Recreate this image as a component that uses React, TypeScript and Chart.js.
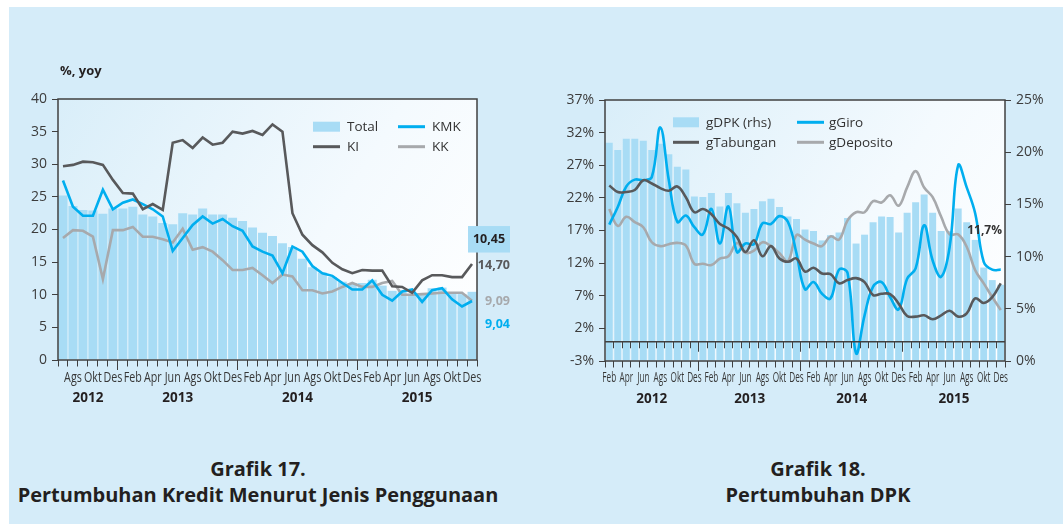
import React, { useEffect, useRef } from "react";
import { Chart, registerables } from "chart.js";

Chart.register(...registerables);

if (typeof document !== "undefined") {
  document.body.style.margin = "0";
}

// ---------------- Grafik 17 data ----------------
const K_MONTHS = [
  "Jul", "Ags", "Sep", "Okt", "Nov", "Des",
  "Jan", "Feb", "Mar", "Apr", "Mei", "Jun", "Jul", "Ags", "Sep", "Okt", "Nov", "Des",
  "Jan", "Feb", "Mar", "Apr", "Mei", "Jun", "Jul", "Ags", "Sep", "Okt", "Nov", "Des",
  "Jan", "Feb", "Mar", "Apr", "Mei", "Jun", "Jul", "Ags", "Sep", "Okt", "Nov", "Des",
];
const K_YEARS = ["2012", "2013", "2014", "2015"];
const K_YEAR_FIRST = [0, 6, 18, 30];
const K_TOTAL = [
  25.2, 23.6, 23.0, 22.9, 22.4, 23.2, 23.2, 23.5, 22.3, 22.0,
  21.0, 20.8, 22.5, 22.3, 23.2, 22.3, 22.3, 21.8, 21.3, 20.3,
  19.5, 19.0, 17.9, 17.3, 15.5, 14.2, 13.4, 12.7, 12.0, 11.8,
  11.8, 12.3, 11.4, 10.6, 10.6, 10.05, 10.0, 11.0, 11.1, 10.2,
  10.1, 10.45,
];
const K_KI = [
  29.7, 29.9, 30.4, 30.3, 29.9, 27.6, 25.6, 25.5, 23.1, 23.9,
  23.0, 33.3, 33.7, 32.5, 34.1, 33.0, 33.3, 35.0, 34.7, 35.1,
  34.5, 36.1, 35.0, 22.5, 19.2, 17.6, 16.5, 14.9, 13.9, 13.3,
  13.8, 13.7, 13.7, 11.3, 11.2, 10.3, 12.2, 13.0, 13.0, 12.7,
  12.7, 14.7,
];
const K_KMK = [
  27.5, 23.5, 22.1, 22.1, 26.1, 23.1, 24.1, 24.6, 23.9, 23.1,
  22.0, 16.7, 18.7, 20.7, 22.0, 20.9, 21.6, 20.5, 19.8, 17.4,
  16.6, 16.0, 13.3, 17.4, 16.6, 14.4, 13.3, 12.9, 11.8, 10.8,
  10.8, 12.2, 10.0, 9.1, 10.5, 10.8, 8.9, 10.7, 11.0, 9.3,
  8.2, 9.04,
];
const K_KK = [
  18.7, 19.9, 19.8, 18.9, 12.4, 19.9, 19.9, 20.4, 18.9, 18.9,
  18.5, 18.0, 20.1, 16.9, 17.3, 16.6, 15.3, 13.8, 13.8, 14.1,
  13.0, 11.8, 13.1, 12.8, 10.7, 10.7, 10.2, 10.5, 11.2, 11.8,
  11.2, 11.2, 11.8, 12.1, 10.0, 10.0, 10.1, 10.2, 10.3, 10.3,
  10.3, 9.09,
];
const K_NOTE_TEXT = ["10,45", "14,70", "9,09", "9,04"];
const K_NOTE_AT = [18.5, 14.6, 9.0, 5.6];

// ---------------- Grafik 18 data ----------------
const D_MONTHS = [
  "Feb", "Mar", "Apr", "Mei", "Jun", "Jul", "Ags", "Sep", "Okt", "Nov", "Des",
  "Jan", "Feb", "Mar", "Apr", "Mei", "Jun", "Jul", "Ags", "Sep", "Okt", "Nov", "Des",
  "Jan", "Feb", "Mar", "Apr", "Mei", "Jun", "Jul", "Ags", "Sep", "Okt", "Nov", "Des",
  "Jan", "Feb", "Mar", "Apr", "Mei", "Jun", "Jul", "Ags", "Sep", "Okt", "Nov", "Des",
];
const D_YEARS = ["2012", "2013", "2014", "2015"];
const D_YEAR_FIRST = [0, 11, 23, 35];
const D_DPK = [
  20.9, 20.2, 21.3, 21.3, 21.1, 20.2, 20.8, 19.8, 18.6, 18.35,
  15.75, 15.7, 16.1, 14.8, 16.1, 15.1, 14.2, 14.55, 15.3, 15.55,
  14.75, 13.85, 13.6, 12.6, 12.45, 11.55, 12.05, 12.3, 13.7, 11.25,
  12.1, 13.3, 13.85, 13.8, 12.3, 14.2, 15.2, 15.95, 14.2, 12.45,
  12.45, 14.6, 13.3, 11.6, 8.95, 7.75, 7.3,
];
const D_GIRO = [
  17.9, 20.6, 23.75, 24.8, 24.7, 25.2, 32.8, 24.7, 18.3, 19.3,
  17.5, 16.4, 20.3, 15.0, 20.7, 13.7, 15.0, 14.9, 18.1, 18.0,
  19.2, 18.3, 13.5, 8.0, 9.1, 7.3, 6.6, 11.0, 10.5, -1.8,
  4.0, 8.4, 9.1, 6.8, 4.9, 9.6, 11.2, 17.8, 12.4, 9.9,
  14.5, 27.0, 23.6, 19.6, 12.2, 11.0, 11.0,
];
const D_TABUNGAN = [
  23.9, 22.9, 22.9, 23.2, 24.7, 24.2, 23.5, 23.1, 23.75, 22.1,
  19.8, 20.3, 19.5, 18.0, 17.3, 16.0, 13.7, 15.5, 13.05, 14.6,
  12.7, 12.2, 12.7, 10.7, 11.3, 10.4, 10.3, 8.9, 9.4, 9.7,
  9.1, 7.1, 7.3, 7.25, 5.8, 3.9, 3.8, 4.0, 3.4, 4.0,
  4.7, 3.8, 4.3, 6.6, 5.9, 6.8, 8.9,
];
const D_DEPOSITO = [
  20.3, 17.7, 19.1, 18.3, 17.5, 15.2, 14.6, 14.9, 15.1, 14.7,
  11.9, 11.9, 11.7, 12.7, 13.05, 15.1, 13.6, 13.9, 15.2, 14.6,
  13.5, 12.3, 16.3, 15.6, 15.0, 14.6, 16.1, 15.6, 18.55, 19.8,
  19.8, 21.5, 21.3, 22.4, 20.8, 23.6, 26.1, 23.6, 22.1, 19.1,
  16.4, 16.4, 14.5, 10.9, 8.9, 6.8, 4.8,
];
const D_NOTE_TEXT = ["11,7%"];
const D_NOTE_AT = [17.1];

// ---------------- styles ----------------
const FONT = '"Open Sans", "Noto Sans", "DejaVu Sans", sans-serif';
const INK = "#231f20";
const AXIS = "#404040";
const PAGE_BG = "#d5ecf9";
const C_BAR = "#a8dcf5";
const C_DARK = "#58595b";
const C_BLUE = "#00aeef";
const C_GRAY = "#a7a9ac";

function alignPx(p: number, w: number) {
  return Math.round(p - w / 2) + w / 2;
}

function seg(ctx: CanvasRenderingContext2D, x0: number, y0: number, x1: number, y1: number) {
  ctx.beginPath();
  ctx.moveTo(x0, y0);
  ctx.lineTo(x1, y1);
  ctx.stroke();
}

type LegendPos = { label: string; kind: "box" | "line"; x0: number; x1: number; tx: number; y: number };
type NoteStyle = { color: string; align: CanvasTextAlign; x: number; box?: [number, number, number] };

function makeDecor(cfg: {
  showParity: number;
  refLabel: string;
  refWidth: number;
  monthSize: number;
  monthDy: number;
  years: string[];
  yearFirst: number[];
  yearDy: number;
  longTick: number;
  zeroScale?: string;
  legend: LegendPos[];
  noteText: string[];
  noteAt: number[];
  noteScale: string;
  noteStyles: NoteStyle[];
  noteSize: number;
}) {
  return {
    id: "decor",
    beforeDraw(chart: any) {
      const { ctx, chartArea: a } = chart;
      const g = ctx.createLinearGradient(a.left, a.top, a.right, a.bottom);
      g.addColorStop(0, "#d9eef9");
      g.addColorStop(0.6, "#f4fafe");
      g.addColorStop(1, "#ffffff");
      ctx.save();
      ctx.fillStyle = g;
      ctx.fillRect(a.left, a.top, a.right - a.left, a.bottom - a.top);
      ctx.restore();
    },
    afterDraw(chart: any) {
      const { ctx, chartArea: a } = chart;
      const xs = chart.scales.x;
      const labels: string[] = chart.data.labels;
      const n = labels.length;
      const px = (i: number) => xs.getPixelForValue(i);
      const step = px(1) - px(0);
      ctx.save();

      // zero line with hanging ticks
      if (cfg.zeroScale) {
        const y0 = alignPx(chart.scales[cfg.zeroScale].getPixelForValue(0), 1.5);
        ctx.strokeStyle = AXIS;
        ctx.lineWidth = 1.5;
        seg(ctx, a.left, y0, a.right, y0);
        ctx.lineWidth = 1;
        for (let i = 1; i < n; i++) {
          const x = alignPx(px(i) - step / 2, 1);
          const long = cfg.yearFirst.indexOf(i) >= 0;
          seg(ctx, x, y0, x, y0 + (long ? 10 : 6.5));
        }
      }

      // long year ticks at the bottom
      ctx.strokeStyle = AXIS;
      ctx.lineWidth = 1;
      for (const f of cfg.yearFirst) {
        if (f <= 0) continue;
        const x = alignPx(px(f) - step / 2, 1);
        seg(ctx, x, a.bottom, x, a.bottom + cfg.longTick);
      }

      // frame
      ctx.lineWidth = 1.5;
      ctx.strokeStyle = AXIS;
      ctx.strokeRect(a.left, a.top, a.right - a.left, a.bottom - a.top);

      // month labels (condensed)
      ctx.font = `${cfg.monthSize}px ${FONT}`;
      ctx.fillStyle = "#363636";
      ctx.textAlign = "center";
      ctx.textBaseline = "middle";
      const sx = cfg.refWidth / ctx.measureText(cfg.refLabel).width;
      for (let i = 0; i < n; i++) {
        if (i % 2 !== cfg.showParity) continue;
        ctx.save();
        ctx.translate(px(i), a.bottom + cfg.monthDy);
        ctx.scale(sx, 1);
        ctx.fillText(labels[i], 0, 0);
        ctx.restore();
      }

      // year labels
      ctx.font = `bold 13.5px ${FONT}`;
      ctx.fillStyle = INK;
      for (let j = 0; j < cfg.years.length; j++) {
        const s = cfg.yearFirst[j];
        const e = j + 1 < cfg.yearFirst.length ? cfg.yearFirst[j + 1] - 1 : n - 1;
        ctx.fillText(cfg.years[j], (px(s) + px(e)) / 2, a.bottom + cfg.yearDy);
      }

      // legend
      ctx.font = `13.5px ${FONT}`;
      ctx.textAlign = "left";
      for (const it of cfg.legend) {
        const ds = chart.data.datasets.find((d: any) => d.label === it.label);
        if (!ds) continue;
        if (it.kind === "box") {
          ctx.fillStyle = ds.backgroundColor;
          ctx.fillRect(it.x0, it.y - 5, it.x1 - it.x0, 10);
        } else {
          ctx.strokeStyle = ds.borderColor;
          ctx.lineWidth = 3;
          seg(ctx, it.x0, it.y, it.x1, it.y);
        }
        ctx.fillStyle = "#333333";
        ctx.fillText(it.label, it.tx, it.y + 0.5);
      }

      // value notes
      const ns = chart.scales[cfg.noteScale];
      ctx.font = `bold ${cfg.noteSize}px ${FONT}`;
      for (let k = 0; k < cfg.noteText.length; k++) {
        const st = cfg.noteStyles[k];
        const y = ns.getPixelForValue(cfg.noteAt[k]);
        if (st.box) {
          ctx.fillStyle = C_BAR;
          ctx.fillRect(st.box[0], y - st.box[2] / 2, st.box[1] - st.box[0], st.box[2]);
        }
        ctx.fillStyle = st.color;
        ctx.textAlign = st.align;
        ctx.fillText(cfg.noteText[k], st.x, y + 0.5);
      }
      ctx.restore();
    },
  };
}

function tickFont(size: number) {
  return { family: FONT, size };
}

function config17(): any {
  return {
    type: "bar",
    data: {
      labels: K_MONTHS,
      datasets: [
        { type: "line", label: "KI", data: K_KI, borderColor: C_DARK, backgroundColor: C_DARK, borderWidth: 2.6, pointRadius: 0, tension: 0, order: 1 },
        { type: "line", label: "KMK", data: K_KMK, borderColor: C_BLUE, backgroundColor: C_BLUE, borderWidth: 2.6, pointRadius: 0, tension: 0, order: 2 },
        { type: "line", label: "KK", data: K_KK, borderColor: C_GRAY, backgroundColor: C_GRAY, borderWidth: 2.6, pointRadius: 0, tension: 0, order: 3 },
        { type: "bar", label: "Total", data: K_TOTAL, backgroundColor: C_BAR, barPercentage: 0.9, categoryPercentage: 1, order: 4 },
      ],
    },
    options: {
      animation: false,
      responsive: false,
      maintainAspectRatio: false,
      events: [],
      layout: { padding: { left: 0, right: 53, top: 39, bottom: 0 } },
      plugins: { legend: { display: false }, tooltip: { enabled: false }, title: { display: false } },
      scales: {
        x: {
          offset: true,
          grid: { offset: true, drawOnChartArea: false, drawTicks: true, tickLength: 6.5, color: AXIS, lineWidth: 1 },
          border: { display: false },
          ticks: { display: false, autoSkip: false },
          afterFit: (s: any) => { s.height = 70; },
        },
        y: {
          min: 0,
          max: 40,
          ticks: { stepSize: 5, font: tickFont(14), color: "#3c3c3c", padding: 5 },
          grid: { drawOnChartArea: false, drawTicks: true, tickLength: 6, color: AXIS, lineWidth: 1 },
          border: { display: false },
          afterFit: (s: any) => { s.width = 58; },
        },
      },
    },
    plugins: [
      makeDecor({
        showParity: 1,
        refLabel: "Ags",
        refWidth: 17.7,
        monthSize: 14,
        monthDy: 18,
        years: K_YEARS,
        yearFirst: K_YEAR_FIRST,
        yearDy: 38.5,
        longTick: 10,
        legend: [
          { label: "Total", kind: "box", x0: 313, x1: 340, tx: 347, y: 66.7 },
          { label: "KMK", kind: "line", x0: 398, x1: 425, tx: 432, y: 66.7 },
          { label: "KI", kind: "line", x0: 313, x1: 340, tx: 347, y: 86.7 },
          { label: "KK", kind: "line", x0: 398, x1: 425, tx: 432, y: 86.7 },
        ],
        noteText: K_NOTE_TEXT,
        noteAt: K_NOTE_AT,
        noteScale: "y",
        noteSize: 12.5,
        noteStyles: [
          { color: INK, align: "center", x: 489, box: [468, 510, 26.5] },
          { color: C_DARK, align: "right", x: 510 },
          { color: C_GRAY, align: "right", x: 510 },
          { color: C_BLUE, align: "right", x: 510 },
        ],
      }),
    ],
  };
}

function config18(): any {
  return {
    type: "bar",
    data: {
      labels: D_MONTHS,
      datasets: [
        { type: "line", label: "gTabungan", data: D_TABUNGAN, yAxisID: "y", borderColor: C_DARK, backgroundColor: C_DARK, borderWidth: 2.6, pointRadius: 0, tension: 0.4, order: 1 },
        { type: "line", label: "gGiro", data: D_GIRO, yAxisID: "y", borderColor: C_BLUE, backgroundColor: C_BLUE, borderWidth: 2.6, pointRadius: 0, tension: 0.4, order: 2 },
        { type: "line", label: "gDeposito", data: D_DEPOSITO, yAxisID: "y", borderColor: C_GRAY, backgroundColor: C_GRAY, borderWidth: 2.6, pointRadius: 0, tension: 0.4, order: 3 },
        { type: "bar", label: "gDPK (rhs)", data: D_DPK, yAxisID: "y1", backgroundColor: C_BAR, barPercentage: 0.82, categoryPercentage: 1, order: 4 },
      ],
    },
    options: {
      animation: false,
      responsive: false,
      maintainAspectRatio: false,
      events: [],
      layout: { padding: { left: 0, right: 0, top: 40, bottom: 0 } },
      plugins: { legend: { display: false }, tooltip: { enabled: false }, title: { display: false } },
      scales: {
        x: {
          offset: true,
          grid: { offset: true, drawOnChartArea: false, drawTicks: true, tickLength: 6.5, color: AXIS, lineWidth: 1 },
          border: { display: false },
          ticks: { display: false, autoSkip: false },
          afterFit: (s: any) => { s.height = 69; },
        },
        y: {
          position: "left",
          min: -3,
          max: 37,
          ticks: { stepSize: 5, font: tickFont(14), color: "#3c3c3c", padding: 5, callback: (v: any) => `${v}%` },
          grid: { drawOnChartArea: false, drawTicks: true, tickLength: 6, color: AXIS, lineWidth: 1 },
          border: { display: false },
          afterFit: (s: any) => { s.width = 75; },
        },
        y1: {
          position: "right",
          min: 0,
          max: 25,
          ticks: { stepSize: 5, font: tickFont(14), color: "#3c3c3c", padding: 5, callback: (v: any) => `${v}%` },
          grid: { drawOnChartArea: false, drawTicks: true, tickLength: 6, color: AXIS, lineWidth: 1 },
          border: { display: false },
          afterFit: (s: any) => { s.width = 58; },
        },
      },
    },
    plugins: [
      makeDecor({
        showParity: 0,
        refLabel: "Feb",
        refWidth: 13.8,
        monthSize: 15,
        monthDy: 17,
        years: D_YEARS,
        yearFirst: D_YEAR_FIRST,
        yearDy: 38.5,
        longTick: 10,
        zeroScale: "y",
        legend: [
          { label: "gDPK (rhs)", kind: "box", x0: 143, x1: 169, tx: 176, y: 62.3 },
          { label: "gGiro", kind: "line", x0: 267, x1: 294, tx: 299, y: 62.3 },
          { label: "gTabungan", kind: "line", x0: 143, x1: 169, tx: 176, y: 82.3 },
          { label: "gDeposito", kind: "line", x0: 267, x1: 294, tx: 299, y: 82.3 },
        ],
        noteText: D_NOTE_TEXT,
        noteAt: D_NOTE_AT,
        noteScale: "y",
        noteSize: 12,
        noteStyles: [{ color: "#333333", align: "right", x: 472 }],
      }),
    ],
  };
}

const titleBase: React.CSSProperties = {
  position: "absolute",
  textAlign: "center",
  whiteSpace: "nowrap",
  fontFamily: FONT,
  fontWeight: 700,
  fontSize: 20,
  lineHeight: "26px",
  color: INK,
};

export default function App() {
  const ref1 = useRef<HTMLCanvasElement>(null);
  const ref2 = useRef<HTMLCanvasElement>(null);

  useEffect(() => {
    const c1 = new Chart(ref1.current as HTMLCanvasElement, config17());
    const c2 = new Chart(ref2.current as HTMLCanvasElement, config18());
    return () => {
      c1.destroy();
      c2.destroy();
    };
  }, []);

  return (
    <div style={{ position: "relative", width: 1063, height: 524, background: "#ffffff", overflow: "hidden" }}>
      <div style={{ position: "absolute", left: 9, top: 7, right: 0, bottom: 0, background: PAGE_BG }} />
      <canvas ref={ref1} width={530} height={370} style={{ position: "absolute", left: 0, top: 60, width: 530, height: 370 }} />
      <canvas ref={ref2} width={533} height={370} style={{ position: "absolute", left: 530, top: 60, width: 533, height: 370 }} />
      <div style={{ position: "absolute", left: 60, top: 61, fontFamily: FONT, fontWeight: 700, fontSize: 13, lineHeight: "18px", color: INK }}>
        %, yoy
      </div>
      <div style={{ ...titleBase, left: 0, width: 516, top: 456 }}>Grafik 17.</div>
      <div style={{ ...titleBase, left: 0, width: 516, top: 482 }}>Pertumbuhan Kredit Menurut Jenis Penggunaan</div>
      <div style={{ ...titleBase, left: 618, width: 400, top: 456 }}>Grafik 18.</div>
      <div style={{ ...titleBase, left: 618, width: 400, top: 482 }}>Pertumbuhan DPK</div>
    </div>
  );
}
